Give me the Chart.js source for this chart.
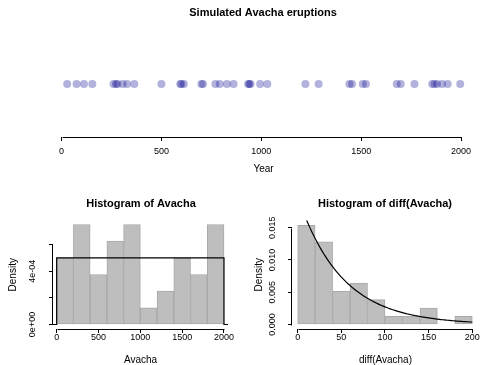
<!DOCTYPE html>
<html>
<head>
<meta charset="utf-8">
<title>Simulated Avacha eruptions</title>
<script src="https://cdn.jsdelivr.net/npm/chart.js@4.4.1/dist/chart.umd.min.js"></script>
<style>
  html, body { margin: 0; padding: 0; background: #fff; }
  #wrap { position: relative; width: 480px; height: 365px; }
  #wrap canvas { position: absolute; left: 0; top: 0; }
</style>
</head>
<body>
<div id="wrap">
  <canvas id="stripChart" width="480" height="365"></canvas>
  <canvas id="histYears" width="480" height="365"></canvas>
  <canvas id="histDiff" width="480" height="365"></canvas>
</div>
<script>
// simulated eruption years (40 of them)
const years = [28, 75, 112, 154, 260, 272, 280, 306, 328, 364,
               500, 594, 600, 612, 700, 708, 770, 792, 828, 861,
               934, 940, 946, 994, 1030, 1221, 1287, 1441, 1454, 1508,
               1524, 1678, 1698, 1767, 1856, 1867, 1880, 1905, 1933, 1996];
const yearTicks = [0, 500, 1000, 1500, 2000];

// histogram of the years
const yearBreaks = [0, 200, 400, 600, 800, 1000, 1200, 1400, 1600, 1800, 2000];
const yearDensTicks = [0, 0.0002, 0.0004, 0.0006];
const yearDensLabels = ['0e+00', '', '4e-04', ''];
// uniform density 1/2000 across the plot range
const unifX = [-80, 0, 0, 2000, 2000, 2080];
const unifY = [0, 0, 0.0005, 0.0005, 0, 0];

// histogram of the gaps between eruptions
const diffBreaks = [0, 20, 40, 60, 80, 100, 120, 140, 160, 180, 200];
const diffTicks = [0, 50, 100, 150, 200];
const diffDensTicks = [0, 0.005, 0.010, 0.015];
const diffDensLabels = ['0.000', '0.005', '0.010', '0.015'];

const FONT = '"Liberation Sans", Arial, Helvetica, sans-serif';
Chart.defaults.font.family = FONT;
Chart.defaults.color = '#000';

const gaps = years.slice(1).map((y, i) => y - years[i]);
const rate = gaps.length / gaps.reduce((a, b) => a + b, 0);  // 1 / mean gap

function histDensity(values, breaks) {
  const n = values.length;
  return breaks.slice(0, -1).map((lo, i) => {
    const hi = breaks[i + 1];
    const count = values.filter(v => (i === 0 ? v >= lo : v > lo) && v <= hi).length;
    return { x: (lo + hi) / 2, y: count / (n * (hi - lo)) };
  });
}

// exponential density, evaluated like R's curve()
const curveX = Array.from({ length: 101 }, (_, i) => i * 2);
const expCurve = curveX.map(x => ({ x: x, y: rate * Math.exp(-rate * x) }));

const setTicks = vals => s => { s.ticks = vals.map(v => ({ value: v })); };

function xAxis(min, max, ticks, title, height, pad) {
  return {
    type: 'linear', position: 'bottom', min: min, max: max, offset: false,
    afterBuildTicks: setTicks(ticks),
    afterFit: s => { s.height = height; },
    grid: { display: true, drawOnChartArea: false, drawTicks: true, tickLength: 4, color: '#000', lineWidth: 1, offset: false },
    border: { display: false },
    ticks: { font: { size: 9, lineHeight: 1 }, padding: pad, maxRotation: 0, autoSkip: false, callback: v => String(v) },
    title: { display: true, text: title, font: { size: 10, lineHeight: 1 }, padding: 0 }
  };
}

function yAxis(min, max, ticks, width) {
  return {
    type: 'linear', position: 'left', min: min, max: max,
    afterBuildTicks: setTicks(ticks),
    afterFit: s => { s.width = width; },
    grid: { display: true, drawOnChartArea: false, drawTicks: true, tickLength: 4, color: '#000', lineWidth: 1 },
    border: { display: false },
    ticks: { display: false },
    title: { display: true, text: 'Density', font: { size: 10, lineHeight: 1 }, padding: 0 }
  };
}

// R style axes: line only between first and last tick, rotated y labels, bold title
const rAxes = {
  id: 'rAxes',
  afterDraw(chart, args, opts) {
    const ctx = chart.ctx, area = chart.chartArea;
    ctx.save();
    ctx.strokeStyle = '#000';
    ctx.fillStyle = '#000';
    ctx.lineWidth = 1;
    const xs = chart.scales.x;
    const yLine = Math.round(area.bottom) + 0.5;
    ctx.beginPath();
    ctx.moveTo(Math.round(xs.getPixelForValue(opts.xTicks[0])) + 0.5, yLine);
    ctx.lineTo(Math.round(xs.getPixelForValue(opts.xTicks[opts.xTicks.length - 1])) + 0.5, yLine);
    ctx.stroke();
    if (opts.yTicks) {
      const ys = chart.scales.y;
      const xLine = Math.round(area.left) - 0.5;
      ctx.beginPath();
      ctx.moveTo(xLine, Math.round(ys.getPixelForValue(opts.yTicks[0])) + 0.5);
      ctx.lineTo(xLine, Math.round(ys.getPixelForValue(opts.yTicks[opts.yTicks.length - 1])) + 0.5);
      ctx.stroke();
      ctx.font = '9px ' + FONT;
      ctx.textAlign = 'center';
      ctx.textBaseline = 'middle';
      opts.yTicks.forEach((v, i) => {
        if (!opts.yLabels[i]) return;
        ctx.save();
        ctx.translate(area.left - opts.yLabelGap, ys.getPixelForValue(v));
        ctx.rotate(-Math.PI / 2);
        ctx.fillText(opts.yLabels[i], 0, 0);
        ctx.restore();
      });
    }
    ctx.font = 'bold 11px ' + FONT;
    ctx.textAlign = 'center';
    ctx.textBaseline = 'middle';
    ctx.fillText(opts.title, opts.titleX, opts.titleY);
    ctx.restore();
  }
};

const common = {
  responsive: false,
  animation: false,
  devicePixelRatio: 1,
  events: []
};

// Strip plot of eruption years
new Chart(document.getElementById('stripChart'), {
  type: 'scatter',
  data: {
    datasets: [{
      data: years.map(y => ({ x: y, y: 1 })),
      pointRadius: 4,
      pointBackgroundColor: 'rgba(0, 0, 139, 0.3)',
      pointBorderWidth: 0,
      pointBorderColor: 'rgba(0,0,0,0)'
    }]
  },
  options: Object.assign({}, common, {
    layout: { padding: { left: 51, right: 1, top: 31, bottom: 191 } },
    plugins: {
      legend: { display: false }, tooltip: { enabled: false },
      rAxes: { xTicks: yearTicks, title: 'Simulated Avacha eruptions', titleX: 263, titleY: 13 }
    },
    scales: {
      x: xAxis(-53, 2075, yearTicks, 'Year', 37, 6),
      y: { display: false, min: 0, max: 2 }
    }
  }),
  plugins: [rAxes]
});

// Histogram of Avacha
new Chart(document.getElementById('histYears'), {
  type: 'bar',
  data: {
    datasets: [{
      type: 'line',
      data: unifX.map((x, i) => ({ x: x, y: unifY[i] })),
      borderColor: '#000', borderWidth: 1.2, pointRadius: 0, tension: 0, order: 0
    }, {
      type: 'bar',
      data: histDensity(years, yearBreaks),
      backgroundColor: '#bebebe', borderColor: '#a8a8a8', borderWidth: 1, borderSkipped: false,
      barPercentage: 1, categoryPercentage: 1, order: 1
    }]
  },
  options: Object.assign({}, common, {
    layout: { padding: { left: 8, right: 252, top: 220.5, bottom: 0 } },
    plugins: {
      legend: { display: false }, tooltip: { enabled: false },
      rAxes: { xTicks: yearTicks, yTicks: yearDensTicks, yLabels: yearDensLabels, yLabelGap: 20,
               title: 'Histogram of Avacha', titleX: 141, titleY: 204 }
    },
    scales: {
      x: xAxis(-44, 2048, yearTicks, 'Avacha', 36, 0),
      y: yAxis(-0.0000338, 0.00078, yearDensTicks, 45)
    }
  }),
  plugins: [rAxes]
});

// Histogram of diff(Avacha)
new Chart(document.getElementById('histDiff'), {
  type: 'bar',
  data: {
    datasets: [{
      type: 'line',
      data: expCurve,
      borderColor: '#000', borderWidth: 1.2, pointRadius: 0, tension: 0, order: 0
    }, {
      type: 'bar',
      data: histDensity(gaps, diffBreaks),
      backgroundColor: '#bebebe', borderColor: '#a8a8a8', borderWidth: 1, borderSkipped: false,
      barPercentage: 1, categoryPercentage: 1, order: 1
    }]
  },
  options: Object.assign({}, common, {
    layout: { padding: { left: 254, right: 1, top: 220.5, bottom: 0 } },
    plugins: {
      legend: { display: false }, tooltip: { enabled: false },
      rAxes: { xTicks: diffTicks, yTicks: diffDensTicks, yLabels: diffDensLabels, yLabelGap: 19,
               title: 'Histogram of diff(Avacha)', titleX: 385, titleY: 204 }
    },
    scales: {
      x: xAxis(-6.5, 207.7, diffTicks, 'diff(Avacha)', 36, 0),
      y: yAxis(-0.000697, 0.01612, diffDensTicks, 38)
    }
  }),
  plugins: [rAxes]
});
</script>
</body>
</html>
